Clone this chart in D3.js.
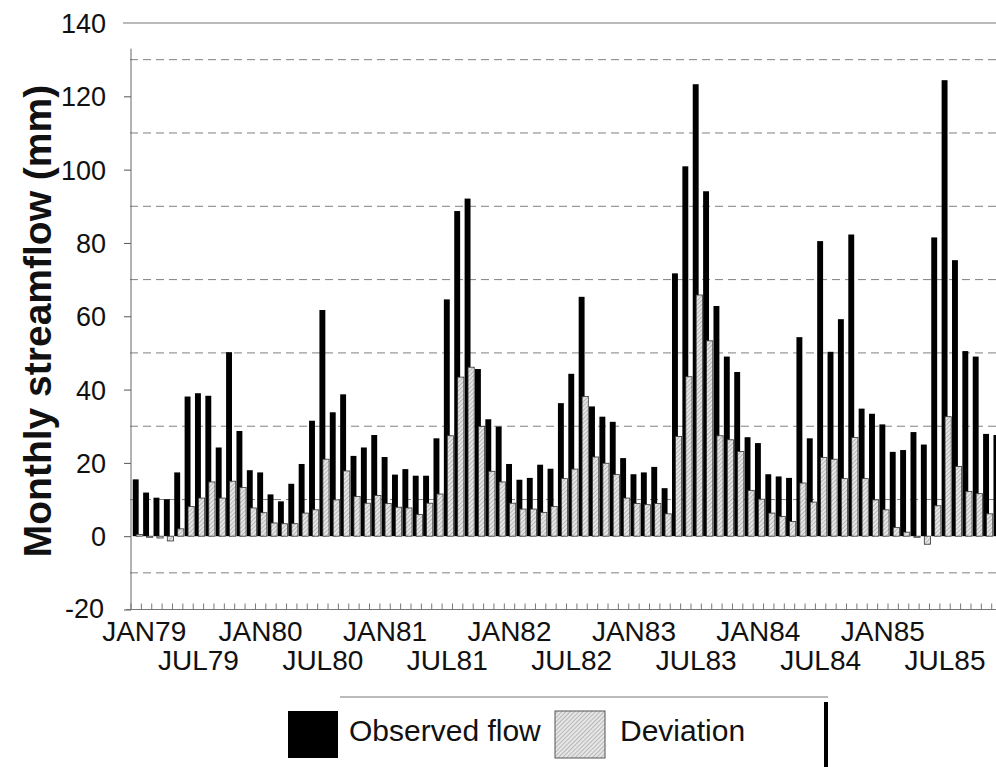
<!DOCTYPE html>
<html>
<head>
<meta charset="utf-8">
<script src="https://cdn.jsdelivr.net/npm/d3@7"></script>
<style>
	body { margin: 0; background: #fff; }
	svg { display: block; }
	text { font-family: "Liberation Sans", Arial, Helvetica, sans-serif; fill: #111; }
</style>
</head>
<body>
<svg id="chart" width="996" height="767"></svg>
<script>
// monthly values, JAN79 .. DEC85
var years = ["79", "80", "81", "82", "83", "84", "85"];
var monthNames = ["JAN", "FEB", "MAR", "APR", "MAY", "JUN", "JUL", "AUG", "SEP", "OCT", "NOV", "DEC"];

var observed = [
	15.5, 11.9, 10.5, 10.1, 17.4, 38.1, 39.0, 38.3, 24.2, 50.2, 28.7, 18.0,
	17.4, 11.4,  9.5, 14.3, 19.7, 31.5, 61.7, 33.8, 38.7, 21.9, 24.2, 27.6,
	21.6, 16.8, 18.3, 16.5, 16.5, 26.7, 64.6, 88.7, 92.1, 45.6, 31.9, 29.9,
	19.7, 15.4, 15.9, 19.5, 18.4, 36.3, 44.3, 65.3, 35.4, 32.6, 31.2, 21.3,
	16.9, 17.4, 18.9, 13.1, 71.7, 100.9, 123.3, 94.1, 62.8, 49.0, 44.8, 27.0,
	25.4, 16.9, 16.3, 15.9, 54.3, 26.7, 80.5, 50.3, 59.2, 82.3, 34.8, 33.4,
	30.5, 23.0, 23.5, 28.4, 25.0, 81.5, 124.4, 75.3, 50.5, 49.0, 27.9, 27.6
];

var deviation = [
	 0.5, -0.3, -0.5, -1.3,  2.0,  8.1, 10.4, 14.8, 10.4, 15.0, 13.3,  7.7,
	 6.4,  3.6,  3.4,  3.4,  6.3,  7.2, 21.0,  9.9, 17.8, 10.8,  9.0, 11.1,
	 8.9,  7.9,  7.7,  5.9,  9.0, 11.5, 27.4, 43.4, 46.1, 29.9, 17.7, 14.8,
	 9.0,  7.4,  7.4,  6.5,  8.1, 15.7, 18.3, 38.1, 21.6, 19.9, 16.8, 10.4,
	 8.9,  8.6,  8.9,  6.1, 27.2, 43.5, 65.8, 53.3, 27.4, 26.3, 23.1, 12.5,
	10.1,  6.3,  5.4,  4.0, 14.5,  9.3, 21.5, 21.0, 15.7, 26.9, 15.7,  9.9,
	 7.2,  2.4,  1.1, -0.3, -2.2,  8.3, 32.6, 19.0, 12.2, 11.6,  6.1,  5.5
];

var janLabels = ["JAN79", "JAN80", "JAN81", "JAN82", "JAN83", "JAN84", "JAN85"];
var julLabels = ["JUL79", "JUL80", "JUL81", "JUL82", "JUL83", "JUL84", "JUL85"];
var yTickValues = [140, 120, 100, 80, 60, 40, 20, 0, -20];
var gridValues = [130, 110, 90, 70, 50, 30, 10, -10];

var months = [];
years.forEach(function(yr) {
	monthNames.forEach(function(m) { months.push(m + yr); });
});

var svg = d3.select("#chart");

var xScale = d3.scaleBand().domain(months).range([131, 131 + 84 * 10.37]).padding(0);
var yScale = d3.scaleLinear().domain([-20, 140]).range([609.5, 23]);
var bw = xScale.bandwidth();

// hatch pattern for the deviation bars
var defs = svg.append("defs");
var pat = defs.append("pattern")
	.attr("id", "hatch")
	.attr("patternUnits", "userSpaceOnUse")
	.attr("width", 3).attr("height", 3)
	.attr("patternTransform", "rotate(45)");
pat.append("rect").attr("width", 3).attr("height", 3).attr("fill", "#e6e6e6");
pat.append("line")
	.attr("x1", 0).attr("y1", 0).attr("x2", 0).attr("y2", 3)
	.attr("stroke", "#8a8a8a").attr("stroke-width", 1);

// top frame line at 140
svg.append("line")
	.attr("x1", 123).attr("x2", 996)
	.attr("y1", yScale(140)).attr("y2", yScale(140))
	.attr("stroke", "#777").attr("stroke-width", 1.2);

// dashed gridlines
svg.selectAll(".grid")
	.data(gridValues)
	.enter()
	.append("line")
	.attr("class", "grid")
	.attr("x1", 130).attr("x2", 996)
	.attr("y1", function(d) { return yScale(d); })
	.attr("y2", function(d) { return yScale(d); })
	.attr("stroke", "#808080")
	.attr("stroke-width", 1)
	.attr("stroke-dasharray", "8,5");

// y axis
var yAxis = d3.axisLeft(yScale)
	.tickValues(yTickValues.filter(function(d) { return d != 140; }))
	.tickSize(7)
	.tickFormat("");
var yAxisLine = svg.append("g")
	.attr("transform", "translate(131,0)")
	.call(yAxis);
yAxisLine.select(".domain").remove();
yAxisLine.selectAll(".tick line").attr("stroke", "#555");
svg.append("line")
	.attr("x1", 131).attr("x2", 131)
	.attr("y1", yScale(133)).attr("y2", yScale(-20))
	.attr("stroke", "#666").attr("stroke-width", 1);

svg.selectAll(".ylabel")
	.data(yTickValues)
	.enter()
	.append("text")
	.attr("class", "ylabel")
	.attr("x", function(d) { return d == -20 ? 104 : 106; })
	.attr("y", function(d) { return yScale(d) + (d == -20 ? 8 : 10); })
	.attr("text-anchor", "end")
	.style("font-size", "27px")
	.text(function(d) { return d; });

// x axis along -20
var xAxis = d3.axisTop(xScale)
	.tickSize(6)
	.tickFormat("");
var xAxisLine = svg.append("g")
	.attr("transform", "translate(0," + yScale(-20) + ")")
	.call(xAxis);
xAxisLine.select(".domain").remove();
xAxisLine.selectAll(".tick line")
	.attr("stroke", "#777")
	.attr("transform", "translate(" + (-bw / 2) + ",0)");
svg.append("line")
	.attr("x1", 126).attr("x2", 996)
	.attr("y1", yScale(-20)).attr("y2", yScale(-20))
	.attr("stroke", "#777").attr("stroke-width", 1.2);

svg.selectAll(".janlabel")
	.data(janLabels)
	.enter()
	.append("text")
	.attr("class", "janlabel")
	.attr("x", function(d, i) { return xScale(d) + bw / 2 + (i == 0 ? 8 : 0); })
	.attr("y", 641)
	.attr("text-anchor", "middle")
	.style("font-size", "28px")
	.text(function(d) { return d; });

svg.selectAll(".jullabel")
	.data(julLabels)
	.enter()
	.append("text")
	.attr("class", "jullabel")
	.attr("x", function(d) { return xScale(d) + bw / 2; })
	.attr("y", 670)
	.attr("text-anchor", "middle")
	.style("font-size", "28px")
	.text(function(d) { return d; });

// y title
svg.append("text")
	.attr("transform", "translate(51,321) rotate(-90)")
	.attr("text-anchor", "middle")
	.style("font-size", "39px")
	.style("font-weight", "bold")
	.text("Monthly streamflow (mm)");

// bars
var bars = svg.append("g").attr("class", "bars");

bars.selectAll(".observedBar")
	.data(observed)
	.enter()
	.append("rect")
	.attr("class", "observedBar")
	.attr("x", function(d, i) { return xScale(months[i]) + bw * 0.17; })
	.attr("width", bw * 0.57)
	.attr("y", function(d) { return yScale(Math.max(0, d)); })
	.attr("height", function(d) { return Math.abs(yScale(0) - yScale(d)); })
	.attr("fill", "#000");

bars.selectAll(".deviationBar")
	.data(deviation)
	.enter()
	.append("rect")
	.attr("class", "deviationBar")
	.attr("x", function(d, i) { return xScale(months[i]) + bw * 0.5; })
	.attr("width", bw * 0.6)
	.attr("y", function(d) { return yScale(Math.max(0, d)); })
	.attr("height", function(d) { return Math.max(1, Math.abs(yScale(0) - yScale(d))); })
	.attr("fill", "url(#hatch)")
	.attr("stroke", "#333")
	.attr("stroke-width", 0.8);

// legend
var legend = svg.append("g").attr("class", "legend");
legend.append("line")
	.attr("x1", 340).attr("x2", 828).attr("y1", 697).attr("y2", 697)
	.attr("stroke", "#777").attr("stroke-width", 1);
legend.append("rect")
	.attr("x", 288).attr("y", 711).attr("width", 50).attr("height", 47)
	.attr("fill", "#000");
legend.append("text")
	.attr("x", 349).attr("y", 741)
	.style("font-size", "30px")
	.text("Observed flow");
legend.append("rect")
	.attr("x", 555).attr("y", 711).attr("width", 50).attr("height", 47)
	.attr("fill", "url(#hatch)")
	.attr("stroke", "#555").attr("stroke-width", 1);
legend.append("text")
	.attr("x", 620).attr("y", 741)
	.style("font-size", "30px")
	.text("Deviation");
legend.append("line")
	.attr("x1", 826).attr("x2", 826).attr("y1", 702).attr("y2", 767)
	.attr("stroke", "#000").attr("stroke-width", 4);
</script>
</body>
</html>
